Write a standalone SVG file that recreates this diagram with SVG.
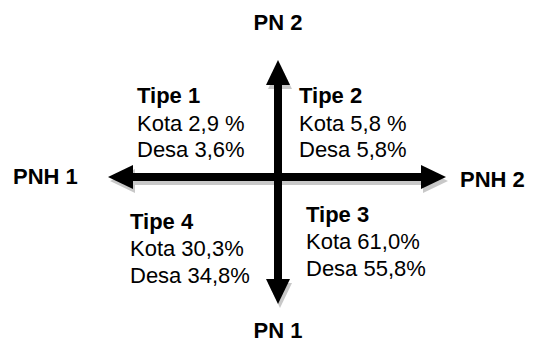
<svg xmlns="http://www.w3.org/2000/svg" width="538" height="354" viewBox="0 0 538 354">
<style>
text{font-family:"Liberation Sans",Arial,sans-serif;font-size:22px;fill:#000}
.b{font-weight:bold}
.shadow{fill:#c8c8c8}
.arrow{fill:#000}
</style>
<rect width="538" height="354" fill="#fff"/>
<g id="connectors">
<g class="shadow" transform="translate(2,4)">
<rect x="130" y="173" width="294" height="8"/>
<polygon points="108,177 133,165 133,189"/>
<polygon points="446,177 421,165 421,189"/>
<polygon points="278,60 266,85 290,85"/>
<polygon points="278,304 266,279 290,279"/>
</g>
<g class="arrow">
<rect x="130" y="173" width="294" height="8"/>
<rect x="274" y="83" width="8" height="198"/>
<polygon points="108,177 133,165 133,189"/>
<polygon points="446,177 421,165 421,189"/>
<polygon points="278,60 266,85 290,85"/>
<polygon points="278,304 266,279 290,279"/>
</g>
</g>
<g id="pn2"><text class="b" x="278" y="30" text-anchor="middle">PN 2</text></g>
<g id="pn1"><text class="b" x="278" y="338" text-anchor="middle">PN 1</text></g>
<g id="pnh1"><text class="b" x="13" y="184">PNH 1</text></g>
<g id="pnh2"><text class="b" x="460" y="187">PNH 2</text></g>
<g id="tipe1">
<text class="b" x="137" y="103">Tipe 1</text>
<text x="137" y="131">Kota 2,9 %</text>
<text x="137" y="157">Desa 3,6%</text>
</g>
<g id="tipe2">
<text class="b" x="299" y="103">Tipe 2</text>
<text x="299" y="131">Kota 5,8 %</text>
<text x="299" y="157">Desa 5,8%</text>
</g>
<g id="tipe4">
<text class="b" x="130" y="229">Tipe 4</text>
<text x="130" y="256">Kota 30,3%</text>
<text x="130" y="283">Desa 34,8%</text>
</g>
<g id="tipe3">
<text class="b" x="306" y="222">Tipe 3</text>
<text x="306" y="249">Kota 61,0%</text>
<text x="306" y="276">Desa 55,8%</text>
</g>
</svg>
